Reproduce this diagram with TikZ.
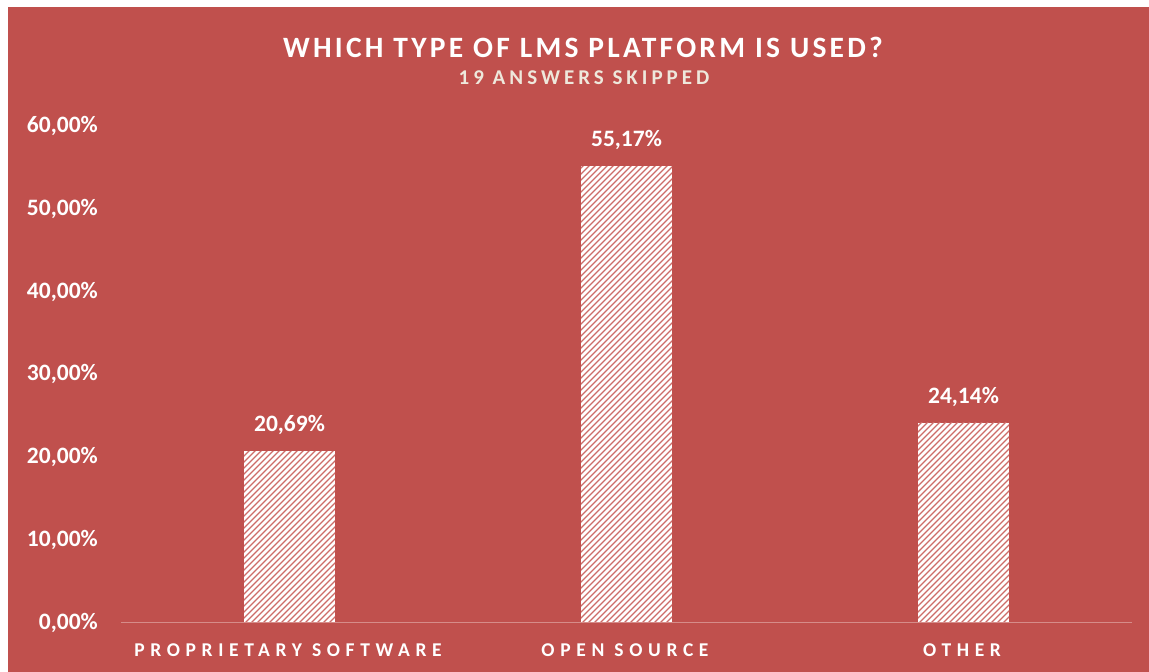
\documentclass[tikz,border=0pt]{standalone}
\usepackage{fontspec}
\setmainfont{Carlito}
\definecolor{bgred}{RGB}{192,80,77}
\definecolor{subbeige}{RGB}{238,232,220}
\definecolor{axisline}{RGB}{214,140,137}
\definecolor{hatchred}{RGB}{205,108,105}
\tikzset{
  ticklab/.style={anchor=east, text=white, font=\fontsize{23.5}{26}\selectfont\bfseries, inner sep=0pt},
  datalab/.style={anchor=center, text=white, font=\fontsize{23.5}{26}\selectfont\bfseries, inner sep=0pt},
  catlab/.style={anchor=center, text=white, font=\fontsize{19.5}{22}\selectfont\bfseries\addfontfeature{LetterSpace=29}, inner sep=0pt},
  barbox/.style={fill=white},
  hatchline/.style={draw=hatchred, line width=1.3pt},
}
\begin{document}
\begin{tikzpicture}[x=1pt,y=-1pt]
\useasboundingbox (0,0) rectangle (1149,672);
\fill[white] (0,0) rectangle (1149,672);
\fill[bgred] (8,7) rectangle (1149,672);
% title
\node[text=white, font=\fontsize{29.5}{32}\selectfont\bfseries\addfontfeature{LetterSpace=11}, inner sep=0pt] (title) at (583,47) {WHICH TYPE OF LMS PLATFORM IS USED?};
\node[text=subbeige, font=\fontsize{21}{24}\selectfont\bfseries\addfontfeature{LetterSpace=19}, inner sep=0pt] (sub) at (584,78) {19 ANSWERS SKIPPED};
% y tick labels
\foreach \v in {0,10,20,30,40,50,60}{
  \node[ticklab] (tick\v) at (98,{622.5-8.27*\v}) {\v,00\%};
}
% bars
\foreach \n/\c/\v/\lab in {a/289.5/20.69/{20,69}, b/626.5/55.17/{55,17}, c/963.5/24.14/{24,14}}{
  \path[barbox] ({\c-45.5},622.5) rectangle ({\c+45.5},{622.5-8.27*\v});
  \begin{scope}
    \clip ({\c-45.5},622.5) rectangle ({\c+45.5},{622.5-8.27*\v});
    \foreach \k in {-80,...,17}{
      \draw[hatchline] ({\c-45.5+6*\k},624) -- ++(500,-500);
    }
  \end{scope}
  \node[datalab] (val\n) at (\c,{622.5-8.27*\v-26}) {\lab\%};
}
% axis
\coordinate (axl) at (121,622.5);
\coordinate (axr) at (1132,622.5);
\draw[axisline, line width=1.2pt] (axl) -- (axr);
% category labels
\node[catlab] (cat1) at (288,650) {PROPRIETARY SOFTWARE};
\node[catlab] (cat2) at (625,650) {OPEN SOURCE};
\node[catlab] (cat3) at (962,650) {OTHER};
\end{tikzpicture}
\end{document}
